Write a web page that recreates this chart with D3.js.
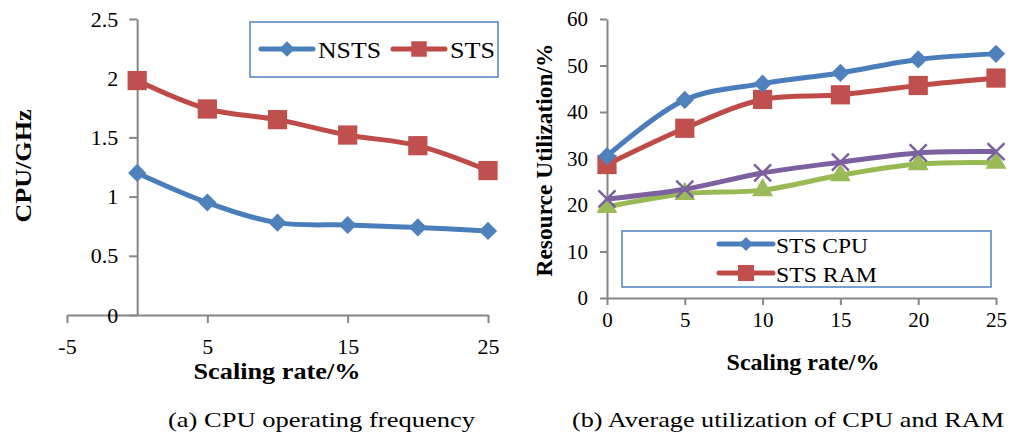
<!DOCTYPE html>
<html lang="en">
<head>
<meta charset="utf-8">
<title>CPU frequency and resource utilization</title>
<script src="https://d3js.org/d3.v7.min.js"></script>
<style>
  body { margin: 0; background: #fff; }
  svg text { font-family: "Liberation Serif", Tinos, "Times New Roman", "DejaVu Serif", serif; fill: #000; }
</style>
</head>
<body>
<script>
// data
var rates = [0, 5, 10, 15, 20, 25];
var nstsFreq = [1.20, 0.95, 0.78, 0.76, 0.74, 0.71];
var stsFreq = [1.98, 1.74, 1.65, 1.52, 1.43, 1.22];
var stsCpu = [30.5, 42.6, 46.1, 48.4, 51.3, 52.5];
var stsRam = [28.7, 36.5, 42.7, 43.7, 45.7, 47.3];
var nstsCpu = [21.3, 23.4, 26.9, 29.2, 31.2, 31.5];
var nstsRam = [19.6, 22.4, 23.2, 26.4, 28.8, 29.1];
var leftXTicks = [-5, 5, 15, 25];
var leftYTicks = [0, 0.5, 1, 1.5, 2, 2.5];
var rightXTicks = [0, 5, 10, 15, 20, 25];
var rightYTicks = [0, 10, 20, 30, 40, 50, 60];
var captions = ["(a) CPU operating frequency", "(b) Average utilization of CPU and RAM"];

var w = 1010, h = 439;
var axisColor = "#868686";
var blue = "#4A7EBB", red = "#BE4B48", green = "#98B954", purple = "#7D60A0";

var svg = d3.select("body").append("svg")
    .attr("width", w)
    .attr("height", h);

function styleAxis(g, size) {
  g.attr("font-family", null);
  g.select(".domain").attr("stroke", axisColor).attr("stroke-width", 2);
  g.selectAll(".tick line").attr("stroke", axisColor).attr("stroke-width", 2);
  g.selectAll(".tick text").style("font-size", size + "px").attr("fill", "#000");
}

// text squeezed to the width it has in the picture
function fitText(g, x, y, str, size, len, bold, anchor) {
  return g.append("text").attr("x", x).attr("y", y)
    .attr("text-anchor", anchor || "start")
    .style("font-size", size + "px").style("font-weight", bold ? "bold" : "normal")
    .attr("textLength", len).attr("lengthAdjust", "spacingAndGlyphs")
    .text(str);
}

var line = function(x, y) {
  return d3.line().x(function(d) { return x(d[0]); }).y(function(d) { return y(d[1]); })
           .curve(d3.curveCatmullRom.alpha(0.5));
};

function drawSeries(g, x, y, vals, color, marker) {
  var pts = rates.map(function(r, i) { return [r, vals[i]]; });
  g.append("path").datum(pts)
    .attr("fill", "none").attr("stroke", color).attr("stroke-width", 5)
    .attr("stroke-linejoin", "round")
    .attr("d", line(x, y));
  var m = g.selectAll(null).data(pts).enter().append("path")
    .attr("transform", function(d) {
      return "translate(" + x(d[0]) + "," + y(d[1]) + ")" + (marker === "diamond" ? " rotate(45)" : "");
    });
  styleMarker(m, color, marker, 1);
}

function styleMarker(m, color, marker, k) {
  if (marker === "diamond") {
    m.attr("d", d3.symbol().type(d3.symbolSquare).size(165 * k)).attr("fill", "#4F81BD");
  } else if (marker === "square") {
    m.attr("d", d3.symbol().type(d3.symbolSquare).size(370 * k)).attr("fill", "#C0504D");
  } else if (marker === "triangle") {
    m.attr("d", d3.symbol().type(d3.symbolTriangle).size(190 * k)).attr("fill", "#9BBB59");
  } else {
    m.attr("d", d3.symbol().type(d3.symbolX).size(190 * k))
     .attr("fill", "none").attr("stroke", color).attr("stroke-width", 2.5);
  }
}

function legendItem(g, x0, x1, yy, tx, label, len, color, marker, k, fs) {
  g.append("line").attr("x1", x0).attr("x2", x1).attr("y1", yy).attr("y2", yy)
    .attr("stroke", color).attr("stroke-width", 5).attr("stroke-linecap", "round");
  var m = g.append("path")
    .attr("transform", "translate(" + ((x0 + x1) / 2) + "," + yy + ")" + (marker === "diamond" ? " rotate(45)" : ""));
  styleMarker(m, color, marker, k);
  fitText(g, tx, yy + 8.5, label, fs, len, false);
}

// ---------- (a) CPU operating frequency ----------
var xa = d3.scaleLinear().domain([-5, 25]).range([67, 488]);
var ya = d3.scaleLinear().domain([0, 2.5]).range([315, 19]);
var ga = svg.append("g");

ga.append("g").attr("transform", "translate(0," + ya(0) + ")")
  .call(d3.axisBottom(xa).tickValues(leftXTicks).tickSize(8).tickSizeOuter(0).tickPadding(15).tickFormat(function(d) { return String(d); }))
  .call(styleAxis, 22);
ga.append("g").attr("transform", "translate(" + xa(0) + ",0)")
  .call(d3.axisLeft(ya).tickValues(leftYTicks).tickSize(8).tickSizeOuter(0).tickPadding(11).tickFormat(function(d) { return String(d); }))
  .call(styleAxis, 22);

drawSeries(ga, xa, ya, nstsFreq, blue, "diamond");
drawSeries(ga, xa, ya, stsFreq, red, "square");

fitText(ga, 0, 0, "CPU/GHz", 24, 113, true, "middle").attr("transform", "translate(31,166) rotate(-90)");
fitText(ga, 277, 379, "Scaling rate/%", 24, 167, true, "middle");

var la = ga.append("g");
la.append("rect").attr("x", 250).attr("y", 22).attr("width", 248).attr("height", 55)
  .attr("fill", "#fff").attr("stroke", "#4F81BD").attr("stroke-width", 1.5);
legendItem(la, 261, 313, 49, 318, "NSTS", 63, blue, "diamond", 0.75, 24);
legendItem(la, 393, 445, 49, 450, "STS", 45, red, "square", 0.65, 24);

// ---------- (b) Average utilization ----------
var xb = d3.scaleLinear().domain([0, 25]).range([607, 996]);
var yb = d3.scaleLinear().domain([0, 60]).range([298, 19]);
var gb = svg.append("g");

gb.append("g").attr("transform", "translate(0," + yb(0) + ")")
  .call(d3.axisBottom(xb).tickValues(rightXTicks).tickSize(7).tickSizeOuter(0).tickPadding(7))
  .call(styleAxis, 21);
gb.append("g").attr("transform", "translate(" + xb(0) + ",0)")
  .call(d3.axisLeft(yb).tickValues(rightYTicks).tickSize(7).tickSizeOuter(0).tickPadding(12))
  .call(styleAxis, 21);

drawSeries(gb, xb, yb, nstsRam, green, "triangle");
drawSeries(gb, xb, yb, nstsCpu, purple, "x");
drawSeries(gb, xb, yb, stsRam, red, "square");
drawSeries(gb, xb, yb, stsCpu, blue, "diamond");

fitText(gb, 0, 0, "Resource Utilization/%", 23, 233, true, "middle").attr("transform", "translate(552,160) rotate(-90)");
fitText(gb, 803, 370, "Scaling rate/%", 23, 153, true, "middle");

var lb = gb.append("g");
lb.append("rect").attr("x", 622).attr("y", 231).attr("width", 369).attr("height", 56)
  .attr("fill", "#fff").attr("stroke", "#4F81BD").attr("stroke-width", 1.5);
legendItem(lb, 719, 773, 244, 776, "STS CPU", 92, blue, "diamond", 0.6, 22);
legendItem(lb, 719, 773, 273, 776, "STS RAM", 101, red, "square", 0.7, 22);

// captions
fitText(svg, 168, 427, captions[0], 21, 307, false);
fitText(svg, 572, 427, captions[1], 21, 432, false);
</script>
</body>
</html>
